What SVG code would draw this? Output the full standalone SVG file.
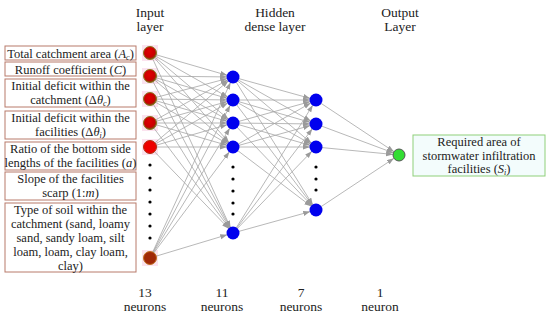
<svg xmlns="http://www.w3.org/2000/svg" width="550" height="320" viewBox="0 0 550 320">
<defs>
<marker id="arr" markerUnits="userSpaceOnUse" markerWidth="16" markerHeight="6" refX="13" refY="2.5" orient="auto">
<path d="M0,0 L7,2.5 L0,5 z" fill="#9a9a9a"/>
</marker>
<radialGradient id="gIn" cx="0.45" cy="0.4" r="0.6">
<stop offset="0" stop-color="#e00000"/>
<stop offset="0.7" stop-color="#c80000"/>
<stop offset="1" stop-color="#6e5a10"/>
</radialGradient>
</defs>
<style>
text{font-family:"Liberation Serif","DejaVu Serif",serif;font-size:12.5px;fill:#222;text-anchor:middle}
.big{font-size:13.5px}
.box{fill:#fff;stroke:#b87a6a;stroke-width:1}
.obox{fill:#f3fcfc;stroke:#8fd07a;stroke-width:1}
.c line{stroke:#a6a6a6;stroke-width:0.8;marker-end:url(#arr)}
.in{fill:url(#gIn);stroke:#8a7a20;stroke-width:1}
.hid{fill:#0000ee}
.out{fill:#33dd33;stroke:#555;stroke-width:1}
.dot{fill:#000}
.glow{fill:#fbe3ef}
</style>
<rect width="550" height="320" fill="#fff"/>

<!-- headers -->
<g id="headers">
<text class="big" x="150" y="17">Input</text>
<text class="big" x="150" y="31">layer</text>
<text class="big" x="275" y="17">Hidden</text>
<text class="big" x="275" y="31">dense layer</text>
<text class="big" x="400" y="17">Output</text>
<text class="big" x="400" y="31">Layer</text>
</g>

<!-- glow behind input nodes -->
<g id="glows">
<rect class="glow" x="142" y="45" width="16" height="16"/>
<rect class="glow" x="142" y="68" width="16" height="16"/>
<rect class="glow" x="142" y="91" width="16" height="16"/>
<rect class="glow" x="142" y="115" width="16" height="16"/>
<rect class="glow" x="142" y="139" width="16" height="16"/>
<rect class="glow" x="142" y="250" width="16" height="16"/>
</g>

<!-- input label boxes -->
<g id="lbl1"><rect class="box" x="5" y="46" width="131" height="14"/><text x="70.5" y="57.5">Total catchment area (<tspan font-style="italic">A</tspan><tspan font-style="italic" font-size="8" dy="2">c</tspan><tspan dy="-2">)</tspan></text></g>
<g id="lbl2"><rect class="box" x="5" y="62" width="131" height="14"/><text x="70.5" y="73.5">Runoff coefficient (<tspan font-style="italic">C</tspan>)</text></g>
<g id="lbl3"><rect class="box" x="5" y="79" width="131" height="28"/><text x="70.5" y="90">Initial deficit within the</text><text x="70.5" y="104">catchment (Δ<tspan font-style="italic">θ</tspan><tspan font-style="italic" font-size="8" dy="2">c</tspan><tspan dy="-2">)</tspan></text></g>
<g id="lbl4"><rect class="box" x="5" y="111" width="131" height="28"/><text x="70.5" y="122">Initial deficit within the</text><text x="70.5" y="136">facilities (Δ<tspan font-style="italic">θ</tspan><tspan font-style="italic" font-size="8" dy="2">i</tspan><tspan dy="-2">)</tspan></text></g>
<g id="lbl5"><rect class="box" x="5" y="142" width="131" height="28"/><text x="70.5" y="153">Ratio of the bottom side</text><text x="70.5" y="167">lengths of the facilities (<tspan font-style="italic">a</tspan>)</text></g>
<g id="lbl6"><rect class="box" x="5" y="172" width="131" height="28"/><text x="70.5" y="183">Slope of the facilities</text><text x="70.5" y="197">scarp (1:<tspan font-style="italic">m</tspan>)</text></g>
<g id="lbl7"><rect class="box" x="5" y="203" width="131" height="69"/><text x="70.5" y="214">Type of soil within the</text><text x="70.5" y="228">catchment (sand, loamy</text><text x="70.5" y="242">sand, sandy loam, silt</text><text x="70.5" y="256">loam, loam, clay loam,</text><text x="70.5" y="270">clay)</text></g>

<!-- connectors -->
<g id="connectors" class="c">
<line x1="150" y1="53" x2="233" y2="77"/><line x1="150" y1="53" x2="233" y2="100"/><line x1="150" y1="53" x2="233" y2="123"/><line x1="150" y1="53" x2="233" y2="147"/><line x1="150" y1="53" x2="233" y2="233"/>
<line x1="150" y1="76" x2="233" y2="77"/><line x1="150" y1="76" x2="233" y2="100"/><line x1="150" y1="76" x2="233" y2="123"/><line x1="150" y1="76" x2="233" y2="147"/><line x1="150" y1="76" x2="233" y2="233"/>
<line x1="150" y1="99" x2="233" y2="77"/><line x1="150" y1="99" x2="233" y2="100"/><line x1="150" y1="99" x2="233" y2="123"/><line x1="150" y1="99" x2="233" y2="147"/><line x1="150" y1="99" x2="233" y2="233"/>
<line x1="150" y1="123" x2="233" y2="77"/><line x1="150" y1="123" x2="233" y2="100"/><line x1="150" y1="123" x2="233" y2="123"/><line x1="150" y1="123" x2="233" y2="147"/><line x1="150" y1="123" x2="233" y2="233"/>
<line x1="150" y1="147" x2="233" y2="77"/><line x1="150" y1="147" x2="233" y2="100"/><line x1="150" y1="147" x2="233" y2="123"/><line x1="150" y1="147" x2="233" y2="147"/><line x1="150" y1="147" x2="233" y2="233"/>
<line x1="150" y1="258" x2="233" y2="77"/><line x1="150" y1="258" x2="233" y2="100"/><line x1="150" y1="258" x2="233" y2="123"/><line x1="150" y1="258" x2="233" y2="147"/><line x1="150" y1="258" x2="233" y2="233"/>
<line x1="233" y1="77" x2="316" y2="100"/><line x1="233" y1="77" x2="316" y2="124"/><line x1="233" y1="77" x2="316" y2="147"/><line x1="233" y1="77" x2="316" y2="210"/>
<line x1="233" y1="100" x2="316" y2="100"/><line x1="233" y1="100" x2="316" y2="124"/><line x1="233" y1="100" x2="316" y2="147"/><line x1="233" y1="100" x2="316" y2="210"/>
<line x1="233" y1="123" x2="316" y2="100"/><line x1="233" y1="123" x2="316" y2="124"/><line x1="233" y1="123" x2="316" y2="147"/><line x1="233" y1="123" x2="316" y2="210"/>
<line x1="233" y1="147" x2="316" y2="100"/><line x1="233" y1="147" x2="316" y2="124"/><line x1="233" y1="147" x2="316" y2="147"/><line x1="233" y1="147" x2="316" y2="210"/>
<line x1="233" y1="233" x2="316" y2="100"/><line x1="233" y1="233" x2="316" y2="124"/><line x1="233" y1="233" x2="316" y2="147"/><line x1="233" y1="233" x2="316" y2="210"/>
<line x1="316" y1="100" x2="399" y2="155"/><line x1="316" y1="124" x2="399" y2="155"/><line x1="316" y1="147" x2="399" y2="155"/><line x1="316" y1="210" x2="399" y2="155"/>
</g>

<!-- input nodes -->
<g id="in1"><circle class="in" cx="150" cy="53" r="6.5"/></g>
<g id="in2"><circle class="in" cx="150" cy="76" r="6.5"/></g>
<g id="in3"><circle class="in" cx="150" cy="99" r="6.5"/></g>
<g id="in4"><circle class="in" cx="150" cy="123" r="6.5"/></g>
<g id="in5"><circle cx="150" cy="147" r="6.5" fill="#ee0000" stroke="#b03010" stroke-width="1"/></g>
<g id="in13"><circle cx="150" cy="258" r="6.5" fill="#a02808" stroke="#c07020" stroke-width="1"/></g>
<g id="in-dots"><circle class="dot" cx="150" cy="165" r="1.6"/><circle class="dot" cx="150" cy="178" r="1.6"/><circle class="dot" cx="150" cy="190" r="1.6"/><circle class="dot" cx="150" cy="202" r="1.6"/><circle class="dot" cx="150" cy="214" r="1.6"/><circle class="dot" cx="150" cy="226" r="1.6"/><circle class="dot" cx="150" cy="238" r="1.6"/></g>

<!-- hidden layer 1 -->
<g id="h1a"><circle class="hid" cx="233" cy="77" r="6.5"/></g>
<g id="h1b"><circle class="hid" cx="233" cy="100" r="6.5"/></g>
<g id="h1c"><circle class="hid" cx="233" cy="123" r="6.5"/></g>
<g id="h1d"><circle class="hid" cx="233" cy="147" r="6.5"/></g>
<g id="h1k"><circle class="hid" cx="233" cy="233" r="6.5"/></g>
<g id="h1-dots"><circle class="dot" cx="233" cy="167" r="1.6"/><circle class="dot" cx="233" cy="179" r="1.6"/><circle class="dot" cx="233" cy="191" r="1.6"/><circle class="dot" cx="233" cy="203" r="1.6"/><circle class="dot" cx="233" cy="214" r="1.6"/></g>

<!-- hidden layer 2 -->
<g id="h2a"><circle class="hid" cx="316" cy="100" r="6.5"/></g>
<g id="h2b"><circle class="hid" cx="316" cy="124" r="6.5"/></g>
<g id="h2c"><circle class="hid" cx="316" cy="147" r="6.5"/></g>
<g id="h2g"><circle class="hid" cx="316" cy="210" r="6.5"/></g>
<g id="h2-dots"><circle class="dot" cx="316" cy="167" r="1.6"/><circle class="dot" cx="316" cy="179" r="1.6"/><circle class="dot" cx="316" cy="190" r="1.6"/></g>

<!-- output -->
<g id="out"><circle class="out" cx="399" cy="155" r="6"/></g>
<g id="outlbl"><rect class="obox" x="413" y="135" width="132" height="41"/><text x="479" y="146">Required area of</text><text x="479" y="159.5">stormwater infiltration</text><text x="479" y="173">facilities (<tspan font-style="italic">S</tspan><tspan font-style="italic" font-size="8" dy="2">i</tspan><tspan dy="-2">)</tspan></text></g>

<!-- bottom counts -->
<g id="counts">
<text class="big" x="145" y="297">13</text><text class="big" x="145" y="311">neurons</text>
<text class="big" x="222" y="297">11</text><text class="big" x="222" y="311">neurons</text>
<text class="big" x="301" y="297">7</text><text class="big" x="301" y="311">neurons</text>
<text class="big" x="380" y="297">1</text><text class="big" x="380" y="311">neuron</text>
</g>
</svg>
